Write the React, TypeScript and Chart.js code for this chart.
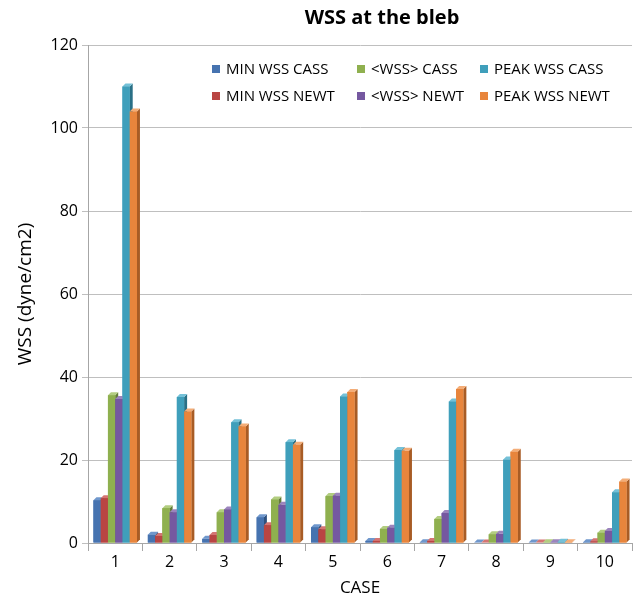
import React, { useEffect, useRef } from "react";
import { Chart, registerables } from "chart.js";

Chart.register(...registerables);

const categories = ["1", "2", "3", "4", "5", "6", "7", "8", "9", "10"];
const minWssCass = [10.3, 2.0, 1.0, 6.2, 3.8, 0.5, 0.2, 0.1, 0.1, 0.2];
const minWssNewt = [10.8, 1.7, 1.9, 4.3, 3.3, 0.5, 0.5, 0.1, 0.1, 0.4];
const avgWssCass = [35.6, 8.4, 7.4, 10.5, 11.3, 3.4, 5.8, 2.1, 0.2, 2.5];
const avgWssNewt = [34.7, 7.4, 8.1, 9.2, 11.4, 3.7, 7.2, 2.2, 0.2, 2.9];
const peakWssCass = [110.0, 35.2, 29.1, 24.3, 35.3, 22.4, 34.1, 20.1, 0.3, 12.2];
const peakWssNewt = [104.0, 31.7, 28.1, 23.7, 36.4, 22.2, 37.1, 22.0, 0.2, 14.8];
const yTicks = [0, 20, 40, 60, 80, 100, 120];

const seriesNames = [
  "MIN WSS CASS",
  "MIN WSS NEWT",
  "<WSS> CASS",
  "<WSS> NEWT",
  "PEAK WSS CASS",
  "PEAK WSS NEWT",
];
const seriesData = [minWssCass, minWssNewt, avgWssCass, avgWssNewt, peakWssCass, peakWssNewt];
const colors = ["#4673b0", "#b94543", "#8fb04f", "#7558a0", "#3f9fbb", "#e8853c"];
const sideColors = ["#2e507e", "#823030", "#637c36", "#513d70", "#2a7086", "#a85c25"];
const topColors = ["#6f97cc", "#d47573", "#b2cd80", "#9b84bd", "#74c1d8", "#f4ad77"];

const FONT = "'Open Sans', 'Noto Sans', sans-serif";

const bar3d = {
  id: "bar3d",
  afterDatasetsDraw(chart: any) {
    const ctx = chart.ctx;
    const dx = 3;
    const dy = 3;
    const n = chart.data.labels.length;
    ctx.save();
    for (let i = 0; i < n; i++) {
      chart.data.datasets.forEach((ds: any, d: number) => {
        const meta = chart.getDatasetMeta(d);
        const el: any = meta.data[i];
        if (!el) return;
        const { x, y, base, width } = el.getProps(["x", "y", "base", "width"], true);
        const l = x - width / 2;
        const r = x + width / 2;
        ctx.fillStyle = sideColors[d];
        ctx.beginPath();
        ctx.moveTo(r, y);
        ctx.lineTo(r + dx, y - dy);
        ctx.lineTo(r + dx, base - dy);
        ctx.lineTo(r, base);
        ctx.closePath();
        ctx.fill();
        ctx.fillStyle = topColors[d];
        ctx.beginPath();
        ctx.moveTo(l, y);
        ctx.lineTo(l + dx, y - dy);
        ctx.lineTo(r + dx, y - dy);
        ctx.lineTo(r, y);
        ctx.closePath();
        ctx.fill();
        el.draw(ctx);
      });
    }
    ctx.restore();
  },
};

const customLegend = {
  id: "customLegend",
  afterDraw(chart: any) {
    const ctx = chart.ctx;
    ctx.save();
    ctx.fillStyle = "#000";
    ctx.font = `bold 20px ${FONT}`;
    ctx.textAlign = "center";
    ctx.textBaseline = "middle";
    ctx.fillText("WSS at the bleb", 382, 18);
    const colX = [212, 357, 480];
    const rowY = [69, 96];
    ctx.font = `15px ${FONT}`;
    ctx.textAlign = "left";
    for (let k = 0; k < seriesNames.length; k++) {
      const col = Math.floor(k / 2);
      const row = k % 2;
      const x = colX[col];
      const y = rowY[row];
      ctx.fillStyle = colors[k];
      ctx.fillRect(x, y - 4, 8, 8);
      ctx.fillStyle = "#000";
      ctx.fillText(seriesNames[k], x + 14, y + 1);
    }
    ctx.restore();
  },
};

export default function App() {
  const ref = useRef<HTMLCanvasElement | null>(null);
  useEffect(() => {
    document.body.style.margin = "0";
    if (!ref.current) return;
    const chart = new Chart(ref.current, {
      type: "bar",
      data: {
        labels: categories,
        datasets: seriesData.map((data, d) => ({
          label: seriesNames[d],
          data,
          backgroundColor: colors[d],
          borderWidth: 0,
          categoryPercentage: 0.8,
          barPercentage: 1.0,
        })),
      },
      options: {
        animation: false,
        responsive: false,
        maintainAspectRatio: false,
        layout: { padding: { top: 45, right: 5, left: 0, bottom: 0 } },
        plugins: {
          legend: { display: false },
          title: { display: false },
          tooltip: { enabled: false },
        },
        scales: {
          x: {
            offset: true,
            grid: {
              offset: true,
              drawOnChartArea: false,
              drawTicks: true,
              tickLength: 8,
              color: "#a6a6a6",
            },
            border: { color: "#a6a6a6" },
            ticks: { color: "#000", font: { family: FONT, size: 16 }, padding: 2 },
            title: {
              display: true,
              text: "CASE",
              color: "#000",
              font: { family: FONT, size: 17 },
              padding: { top: 0, bottom: 0 },
            },
            afterFit: (s: any) => {
              s.height = 55;
            },
          },
          y: {
            min: 0,
            max: 120,
            afterBuildTicks: (s: any) => {
              s.ticks = yTicks.map((v) => ({ value: v }));
            },
            grid: { color: "#bfbfbf", tickLength: 6 },
            border: { color: "#a6a6a6" },
            ticks: { color: "#000", font: { family: FONT, size: 16 }, padding: 4 },
            title: {
              display: true,
              text: "WSS (dyne/cm2)",
              color: "#000",
              font: { family: FONT, size: 19 },
              padding: { top: 14, bottom: 0 },
            },
            afterFit: (s: any) => {
              s.width = 88;
            },
          },
        },
      },
      plugins: [bar3d, customLegend],
    });
    return () => chart.destroy();
  }, []);
  return (
    <div style={{ width: 637, height: 598 }}>
      <canvas ref={ref} width={637} height={598} style={{ width: 637, height: 598, display: "block" }} />
    </div>
  );
}
